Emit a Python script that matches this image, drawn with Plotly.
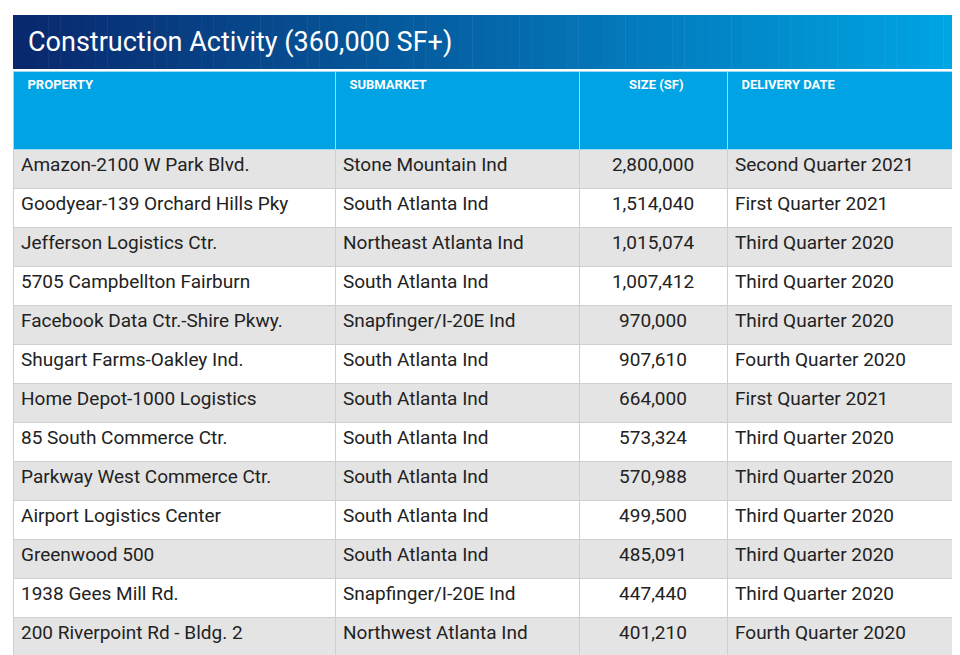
import plotly.graph_objects as go

title = "Construction Activity (360,000 SF+)"
headers = ["PROPERTY", "SUBMARKET", "SIZE (SF)", "DELIVERY DATE"]
properties = ["Amazon-2100 W Park Blvd.", "Goodyear-139 Orchard Hills Pky", "Jefferson Logistics Ctr.",
              "5705 Campbellton Fairburn", "Facebook Data Ctr.-Shire Pkwy.", "Shugart Farms-Oakley Ind.",
              "Home Depot-1000 Logistics", "85 South Commerce Ctr.", "Parkway West Commerce Ctr.",
              "Airport Logistics Center", "Greenwood 500", "1938 Gees Mill Rd.", "200 Riverpoint Rd - Bldg. 2"]
submarkets = ["Stone Mountain Ind", "South Atlanta Ind", "Northeast Atlanta Ind", "South Atlanta Ind",
              "Snapfinger/I-20E Ind", "South Atlanta Ind", "South Atlanta Ind", "South Atlanta Ind",
              "South Atlanta Ind", "South Atlanta Ind", "South Atlanta Ind", "Snapfinger/I-20E Ind",
              "Northwest Atlanta Ind"]
sizes = [2800000, 1514040, 1015074, 1007412, 970000, 907610, 664000, 573324, 570988, 499500, 485091, 447440, 401210]
delivery = ["Second Quarter 2021", "First Quarter 2021", "Third Quarter 2020", "Third Quarter 2020",
            "Third Quarter 2020", "Fourth Quarter 2020", "First Quarter 2021", "Third Quarter 2020",
            "Third Quarter 2020", "Third Quarter 2020", "Third Quarter 2020", "Third Quarter 2020",
            "Fourth Quarter 2020"]

W, H = 960, 655
row_colors = ["#e4e4e4" if i % 2 == 0 else "#ffffff" for i in range(len(properties))]

fig = go.Figure(go.Table(
    domain=dict(x=[5 / W, 947 / W], y=[0, 1 - 63 / H]),
    columnwidth=[322, 244, 148, 228],
    header=dict(values=["  " + h for h in headers], height=78,
                fill_color="#00a3e4", line=dict(color="#9fd8f0", width=1),
                align=["left", "left", "center", "left"],
                font=dict(family="Roboto", size=13, color="white", weight="bold")),
    cells=dict(values=[properties, submarkets, [f"{s:,}" for s in sizes], delivery],
               height=39, fill_color=[row_colors] * 4,
               line=dict(color="#cfcfcf", width=1),
               align=["left", "left", "center", "left"],
               font=dict(family="Roboto", size=19, color="#222222")),
))

# title bar gradient
shapes = []
n = 80
x0, x1 = 5, 947
c0, c1 = (10, 40, 110), (0, 165, 228)
for i in range(n):
    t = i / (n - 1)
    c = tuple(int(c0[k] + (c1[k] - c0[k]) * t) for k in range(3))
    shapes.append(dict(type="rect", xref="paper", yref="paper",
                       x0=(x0 + (x1 - x0) * i / n) / W, x1=(x0 + (x1 - x0) * (i + 1) / n + 0.5) / W,
                       y0=1 - 61 / H, y1=1 - 7 / H, fillcolor=f"rgb{c}", line=dict(width=0), layer="below"))

fig.update_layout(width=W, height=H, margin=dict(l=0, r=0, t=0, b=0),
                  paper_bgcolor="white", shapes=shapes,
                  annotations=[dict(text=title, x=18 / W, y=1 - 34 / H, xref="paper", yref="paper",
                                    xanchor="left", yanchor="middle", showarrow=False,
                                    font=dict(family="Roboto", size=27, color="white"))])
fig.write_html("out.html")
